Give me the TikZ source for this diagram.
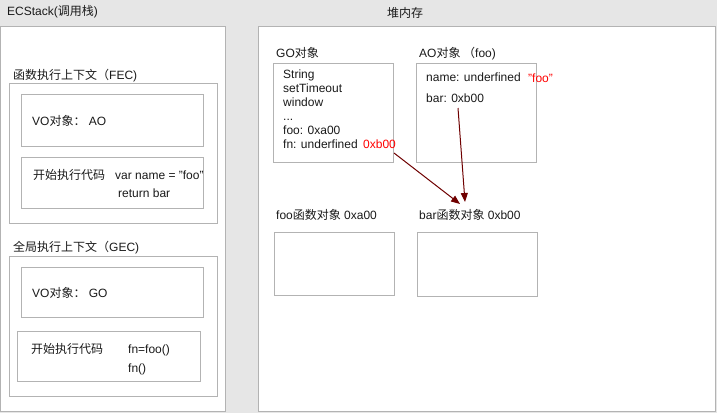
\documentclass[tikz,border=0pt]{standalone}
\usepackage{fontspec}
\setmainfont{Liberation Sans}
\newfontfamily\cjkf{Noto Sans CJK SC}
\newcommand\zhs[1]{{\cjkf #1}}
\usetikzlibrary{arrows.meta}
\definecolor{bgc}{HTML}{E6E6E6}
\definecolor{bdc}{HTML}{B3B3B3}
\definecolor{txc}{HTML}{1A1A1A}
\definecolor{arc}{HTML}{6F0000}
\definecolor{redt}{HTML}{FF0000}
\begin{document}
\begin{tikzpicture}[x=1pt,y=-1pt,font=\fontsize{12}{14}\selectfont,
  box/.style={draw=bdc,line width=1pt,fill=white,anchor=north west,inner sep=0pt,outer sep=0pt},
  txt/.style={anchor=base west,inner sep=0pt,text=txc},
  rtxt/.style={txt,text=redt},
  arr/.style={draw=arc,line width=1pt,-{Triangle[length=9pt,width=7pt]}}]
\fill[bgc] (0,0) rectangle (717,413);
\useasboundingbox (0,0) rectangle (717,413);
% panels
\node[box,minimum width=225pt,minimum height=385pt] (left) at (0.5,26.5) {};
\node[box,minimum width=457pt,minimum height=385pt] (right) at (258.5,26.5) {};
\node[txt] (t-ec) at (7,15.5) {ECStack(\zhs{调用栈})};
\node[txt] (t-heap) at (387,17.5) {\zhs{堆内存}};
% FEC
\node[txt] (t-fec) at (13,79) {\zhs{函数执行上下文（}FEC)};
\node[box,minimum width=208pt,minimum height=140pt] (fec) at (9,83) {};
\node[box,minimum width=182pt,minimum height=52pt] (fecvo) at (21,94) {};
\node[box,minimum width=182pt,minimum height=51pt] (fecex) at (21,157) {};
\node[txt] (t-fecvo) at (32,125.5) {VO\zhs{对象：} AO};
\node[txt] (t-fecex) at (33,179) {\zhs{开始执行代码}};
\node[txt] (t-fec1) at (115,179) {var name = "foo"};
\node[txt] (t-fec2) at (118,197) {return bar};
% GEC
\node[txt] (t-gec) at (13,251.5) {\zhs{全局执行上下文（}GEC)};
\node[box,minimum width=208pt,minimum height=140pt] (gec) at (9,256) {};
\node[box,minimum width=182pt,minimum height=50pt] (gecvo) at (21,267) {};
\node[box,minimum width=183pt,minimum height=50pt] (gecex) at (17,331) {};
\node[txt] (t-gecvo) at (32,297) {VO\zhs{对象：} GO};
\node[txt] (t-gecex) at (31,353.5) {\zhs{开始执行代码}};
\node[txt] (t-gec1) at (128,353.5) {fn=foo()};
\node[txt] (t-gec2) at (128,372) {fn()};
% heap objects
\node[txt] (t-go) at (276,57) {GO\zhs{对象}};
\node[txt] (t-ao) at (419,57) {AO\zhs{对象 （}foo)};
\node[box,minimum width=120pt,minimum height=99pt] (go) at (273,63.5) {};
\node[box,minimum width=120pt,minimum height=99pt] (ao) at (416,63.5) {};
\node[txt] (go1) at (283,78) {String};
\node[txt] (go2) at (283,92) {setTimeout};
\node[txt] (go3) at (283,106) {window};
\node[txt] (go4) at (283,120) {...};
\node[txt] (go5) at (283,134) {foo: 0xa00};
\node[txt] (go6) at (283,148) {fn: underfined};
\node[rtxt] (go6v) at (363,148) {0xb00};
\node[txt] (ao1) at (426,81.5) {name: underfined};
\node[rtxt] (ao1v) at (528,82.5) {"foo"};
\node[txt] (ao2) at (426,102.5) {bar: 0xb00};
\node[txt] (t-foofn) at (276,219.5) {foo\zhs{函数对象} 0xa00};
\node[txt] (t-barfn) at (419,219.5) {bar\zhs{函数对象} 0xb00};
\node[box,minimum width=120pt,minimum height=63.5pt] (foofn) at (274.5,232) {};
\node[box,minimum width=120pt,minimum height=64pt] (barfn) at (417.5,232) {};
% arrows
\coordinate (a1s) at (394,153);
\coordinate (a1e) at (460,204);
\coordinate (a2s) at (458,108);
\coordinate (a2e) at (465,202);
\draw[arr] (a1s) -- (a1e);
\draw[arr] (a2s) -- (a2e);
\end{tikzpicture}
\end{document}
